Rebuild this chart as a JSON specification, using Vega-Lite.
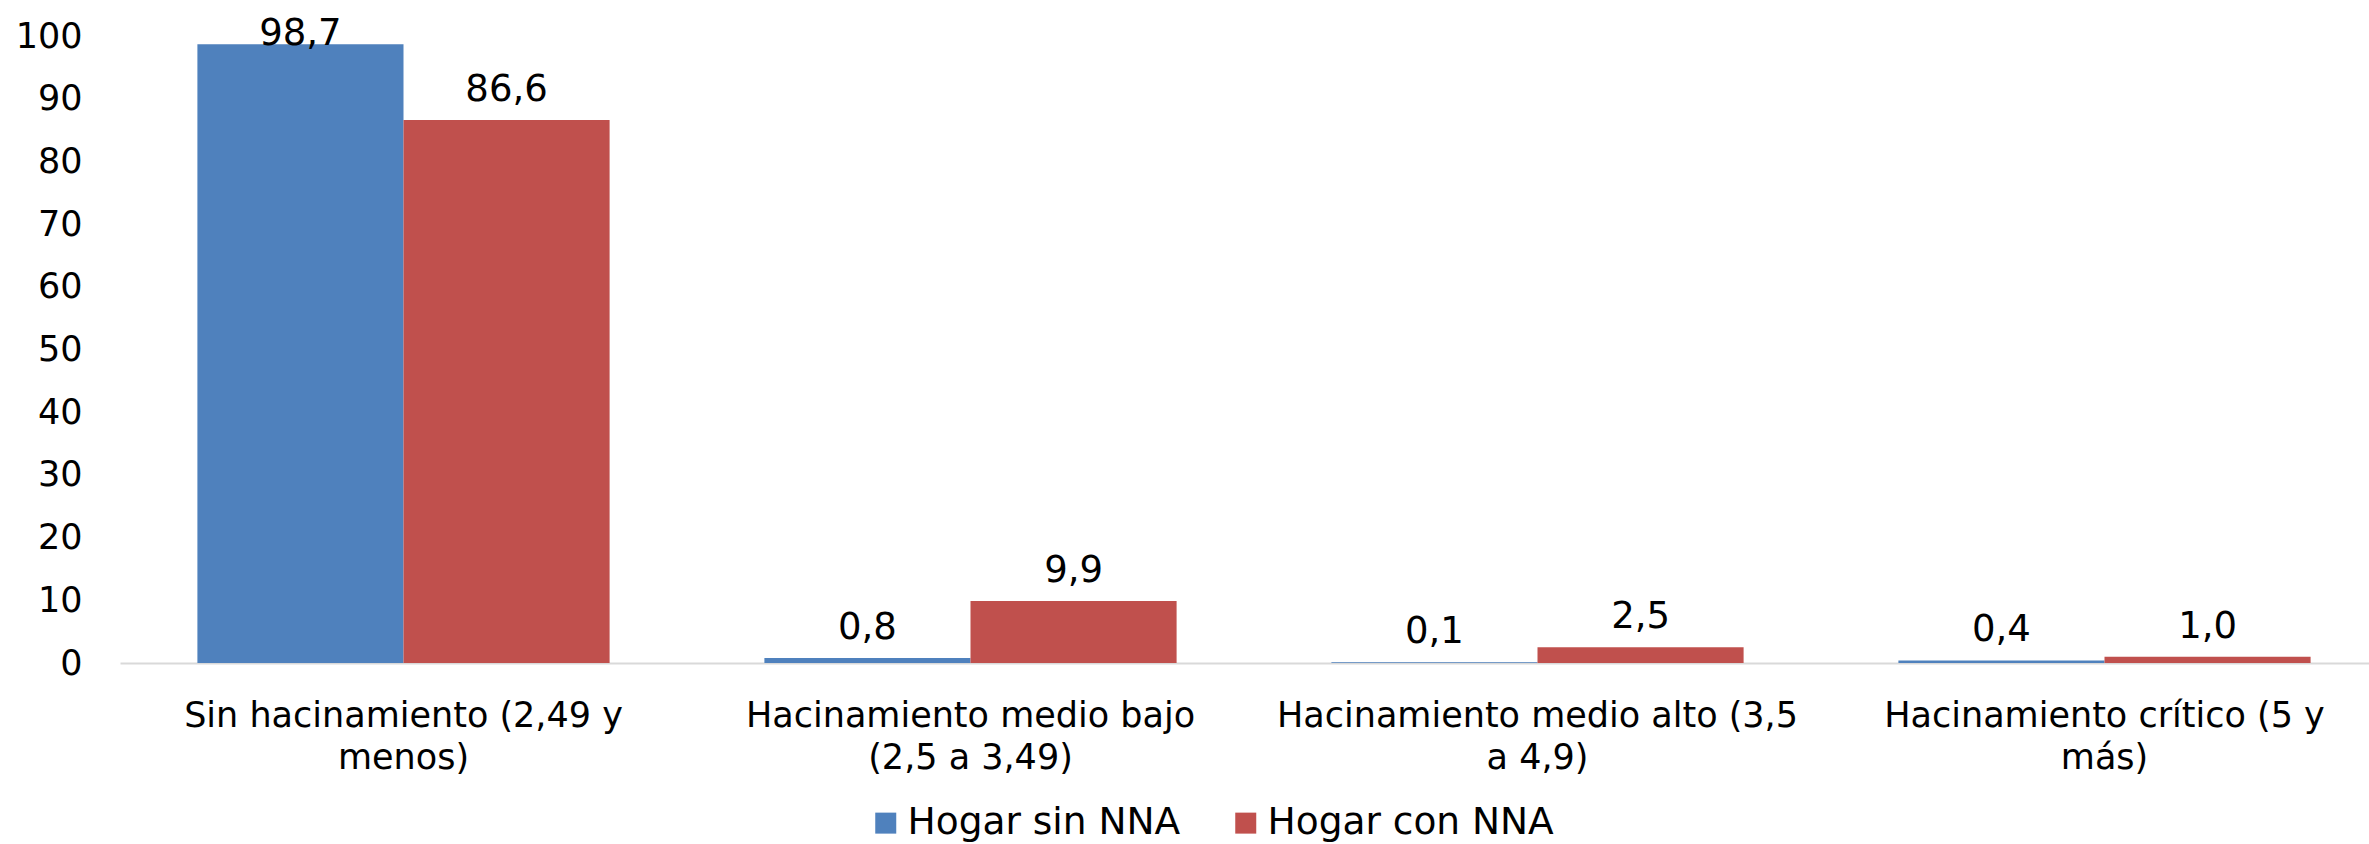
{
  "$schema": "https://vega.github.io/schema/vega-lite/v6.json",
  "width": 2249,
  "height": 627,
  "autosize": {"type": "none"},
  "padding": {"left": 120, "top": 36, "right": 0, "bottom": 181},
  "background": "white",
  "config": {
    "view": {"stroke": null},
    "font": "DejaVu Sans",
    "locale": {"number": {"decimal": ",", "thousands": ".", "grouping": [3], "currency": ["", " €"]}}
  },
  "data": {
    "values": [
      {"categoria": "Sin hacinamiento (2,49 y menos)", "hogar": "Hogar sin NNA", "valor": 98.7},
      {"categoria": "Sin hacinamiento (2,49 y menos)", "hogar": "Hogar con NNA", "valor": 86.6},
      {"categoria": "Hacinamiento medio bajo (2,5 a 3,49)", "hogar": "Hogar sin NNA", "valor": 0.8},
      {"categoria": "Hacinamiento medio bajo (2,5 a 3,49)", "hogar": "Hogar con NNA", "valor": 9.9},
      {"categoria": "Hacinamiento medio alto (3,5 a 4,9)", "hogar": "Hogar sin NNA", "valor": 0.1},
      {"categoria": "Hacinamiento medio alto (3,5 a 4,9)", "hogar": "Hogar con NNA", "valor": 2.5},
      {"categoria": "Hacinamiento crítico (5 y más)", "hogar": "Hogar sin NNA", "valor": 0.4},
      {"categoria": "Hacinamiento crítico (5 y más)", "hogar": "Hogar con NNA", "valor": 1.0}
    ]
  },
  "encoding": {
    "x": {
      "field": "categoria",
      "type": "nominal",
      "sort": null,
      "scale": {"range": [0, 2268], "paddingInner": 0.273, "paddingOuter": 0.1365},
      "axis": {
        "title": null,
        "ticks": false,
        "domainColor": "#d9d9d9",
        "domainWidth": 2,
        "labelFontSize": 35,
        "labelPadding": 35,
        "labelLineHeight": 42,
        "labelColor": "black",
        "labelAngle": 0,
        "labelLimit": 0,
        "labelOverlap": false,
        "labelBound": false,
        "labelExpr": "datum.label == 'Sin hacinamiento (2,49 y menos)' ? ['Sin hacinamiento (2,49 y', 'menos)'] : datum.label == 'Hacinamiento medio bajo (2,5 a 3,49)' ? ['Hacinamiento medio bajo', '(2,5 a 3,49)'] : datum.label == 'Hacinamiento medio alto (3,5 a 4,9)' ? ['Hacinamiento medio alto (3,5', 'a 4,9)'] : ['Hacinamiento crítico (5 y', 'más)']"
      }
    },
    "xOffset": {
      "field": "hogar",
      "type": "nominal",
      "sort": ["Hogar sin NNA", "Hogar con NNA"],
      "scale": {"paddingInner": 0, "paddingOuter": 0}
    },
    "y": {
      "field": "valor",
      "type": "quantitative",
      "scale": {"domain": [0, 100]},
      "axis": {
        "title": null,
        "ticks": false,
        "domain": false,
        "grid": false,
        "values": [0, 10, 20, 30, 40, 50, 60, 70, 80, 90, 100],
        "labelFontSize": 35,
        "labelPadding": 38,
        "labelColor": "black"
      }
    }
  },
  "layer": [
    {
      "mark": {"type": "bar"},
      "encoding": {
        "color": {
          "field": "hogar",
          "type": "nominal",
          "scale": {"domain": ["Hogar sin NNA", "Hogar con NNA"], "range": ["#4F81BD", "#C0504D"]},
          "legend": {
            "title": null,
            "orient": "none",
            "direction": "horizontal",
            "legendX": 747,
            "legendY": 768,
            "symbolType": "square",
            "symbolSize": 441,
            "symbolStrokeWidth": 0,
            "labelFontSize": 37.5,
            "labelColor": "black",
            "labelOffset": 3,
            "labelLimit": 0,
            "columnPadding": 46
          }
        }
      }
    },
    {
      "transform": [{"filter": "datum.valor < 95"}],
      "mark": {"type": "text", "baseline": "bottom", "dy": -11, "fontSize": 37, "color": "black"},
      "encoding": {
        "text": {"field": "valor", "type": "quantitative", "format": ".1f"}
      }
    },
    {
      "transform": [{"filter": "datum.valor >= 95"}],
      "mark": {"type": "text", "baseline": "alphabetic", "dy": 1, "fontSize": 37, "color": "black"},
      "encoding": {
        "text": {"field": "valor", "type": "quantitative", "format": ".1f"}
      }
    }
  ]
}
